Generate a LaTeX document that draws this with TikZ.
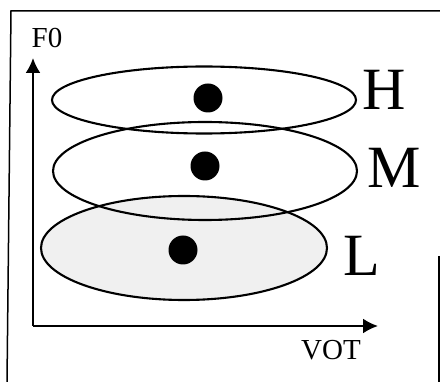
\documentclass[tikz,border=0pt]{standalone}
\usepackage{fontspec}
\setmainfont{Liberation Serif}
\usepackage{tikz}
\usetikzlibrary{shapes.geometric,arrows.meta,positioning}

\tikzset{
    zone/.style={draw=black, line width=2.1pt, ellipse, inner sep=0pt},
    centre/.style={circle, fill=black, minimum size=29pt, inner sep=0pt},
    axis/.style={line width=2.1pt, -{Latex[length=15pt,width=15pt]}},
    tone/.style={font=\fontsize{60}{61}\selectfont, inner sep=0pt},
    axislabel/.style={font=\fontsize{29}{30}\selectfont, inner sep=0pt}
}

\begin{document}
\begin{tikzpicture}[x=1pt,y=-1pt]
    \useasboundingbox (0,0) rectangle (440,382);

    % frame
    \draw[line width=1.5pt] (7,382) -- (11,11) -- (440,11);
    \draw[line width=1.5pt] (439,256) -- (439,382);

    % tone regions
    \node[zone, fill=black!6, minimum width=286pt, minimum height=104pt] (low) at (184,248) {};
    \node[zone, minimum width=304pt, minimum height=98pt] (mid) at (205,171) {};
    \node[zone, minimum width=304pt, minimum height=67pt] (high) at (204,100) {};

    % category centres
    \node[centre] (lowc) at (183,250) {};
    \node[centre] (midc) at (205,166) {};
    \node[centre] (highc) at (208,98) {};

    % tone labels
    \node[tone] (hlab) at (384,90) {H};
    \node[tone] (mlab) at (394,168) {M};
    \node[tone] (llab) at (362,256) {L};

    % axes
    \coordinate (origin) at (33,326);
    \coordinate (ftop) at (33,58);
    \coordinate (vend) at (378,326);
    \draw[axis] (origin) -- (ftop);
    \draw[axis] (origin) -- (vend);
    \node[axislabel] (f0) at (47,38) {F0};
    \node[axislabel] (vot) at (331,350) {VOT};
\end{tikzpicture}
\end{document}
